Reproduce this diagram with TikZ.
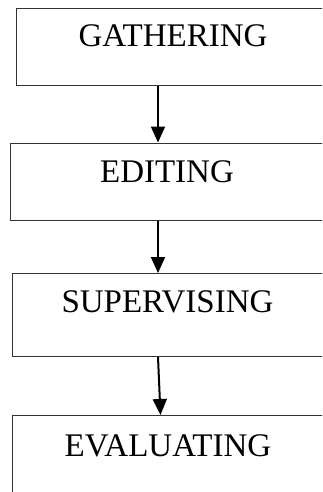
\documentclass[tikz,border=0pt]{standalone}
\usepackage{fontspec}
\setmainfont{Liberation Serif}
\usetikzlibrary{arrows.meta}
\begin{document}
\begin{tikzpicture}[x=1pt,y=-1pt,
  box/.style={draw=black!80, line width=1.2pt, rectangle, inner sep=0pt, anchor=north west},
  lbl/.style={anchor=base, inner sep=0pt, font=\fontsize{33}{38}\selectfont},
  arr/.style={draw=black, line width=2pt, -{Triangle[width=14pt,length=16pt]}}]
\clip (0,0) rectangle (322,492);
\node[box, minimum width=330pt, minimum height=77pt] (b1) at (16,8) {};
\node[box, minimum width=330pt, minimum height=77.5pt] (b2) at (10,142.5) {};
\node[box, minimum width=330pt, minimum height=83pt] (b3) at (12,273) {};
\node[box, minimum width=330pt, minimum height=110pt] (b4) at (12,415) {};
\node[lbl] (t1) at (173,47) {GATHERING};
\node[lbl] (t2) at (167,182) {EDITING};
\node[lbl] (t3) at (167.5,312) {SUPERVISING};
\node[lbl] (t4) at (168,456) {EVALUATING};
\coordinate (xa) at (158,0);
\coordinate (xb) at (160.5,0);
\draw[arr] (b1.south -| xa) -- (b2.north -| xa);
\draw[arr] (b2.south -| xa) -- (b3.north -| xa);
\draw[arr] (b3.south -| xa) -- (b4.north -| xb);
\end{tikzpicture}
\end{document}
